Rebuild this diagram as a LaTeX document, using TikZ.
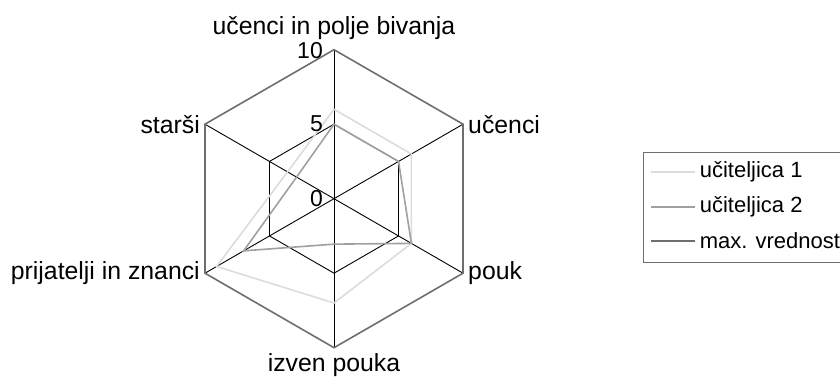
\documentclass[tikz,border=0pt]{standalone}
\usepackage{fontspec}
\setmainfont{Liberation Sans}
\usetikzlibrary{positioning}

\definecolor{teacherone}{HTML}{DCDCDC}
\definecolor{teachertwo}{HTML}{A0A0A0}
\definecolor{maxvalue}{HTML}{6E6E6E}

\tikzstyle{grid}=[
   draw=black,
   line width=0.9pt
]
\tikzstyle{series}=[
   line width=1.6pt,
   line join=miter
]
\tikzstyle{axislabel}=[
   font=\fontsize{24.8}{28}\selectfont,
   inner sep=0pt
]
\tikzstyle{ticklabel}=[
   font=\fontsize{23}{26}\selectfont,
   inner sep=0pt
]
\tikzstyle{legendtext}=[
   font=\fontsize{22}{26}\selectfont,
   text=black,
   inner sep=0pt,
   anchor=west
]

\begin{document}
\begin{tikzpicture}[x=1pt, y=1pt]
      \clip (0,0) rectangle (840,385);
      \useasboundingbox (0,0) rectangle (840,385);

      \begin{scope}[shift={(334,186.3)}, x=14.9pt, y=14.9pt]
         % axis ends at value 10
         \foreach \a [count=\i] in {90,30,-30,-90,-150,-210}
            \coordinate (o\i) at (\a:10);
         \coordinate (c) at (0,0);

         % spokes and the value 5 ring
         \foreach \i in {1,...,6}
            \draw[grid] (c) -- (o\i);
         \draw[grid] (90:5) -- (30:5) -- (-30:5) -- (-90:5)
            -- (-150:5) -- (-210:5) -- cycle;

         % teacher 1
         \draw[series, teacherone] (90:6) -- (30:6) -- (-30:6) -- (-90:7)
            -- (-150:9.1) -- (-210:3.6) -- cycle;
         % teacher 2
         \draw[series, teachertwo] (90:5) -- (30:5) -- (-30:6) -- (-90:3.05)
            -- (-150:7) -- (-210:2.9) -- cycle;
         % max. value
         \draw[series, maxvalue] (o1) -- (o2) -- (o3) -- (o4) -- (o5)
            -- (o6) -- cycle;

         \coordinate (t5) at (90:5);
      \end{scope}

      % axis labels
      \node (lab1) [axislabel, above=10pt of o1] {učenci in polje bivanja};
      \node (lab2) [axislabel, right=5pt of o2] {učenci};
      \node (lab3) [axislabel, right=5pt of o3] {pouk};
      \node (lab4) [axislabel, below=6pt of o4] {izven pouka};
      \node (lab5) [axislabel, left=5pt of o5] {prijatelji in znanci};
      \node (lab6) [axislabel, left=5pt of o6] {starši};

      % scale values
      \node (tick10) [ticklabel, left=11pt of o1, yshift=-1pt] {10};
      \node (tick5) [ticklabel, left=11pt of t5] {5};
      \node (tick0) [ticklabel, left=11pt of c] {0};

      % legend
      \node (legend) [draw=maxvalue, line width=0.9pt, minimum width=215pt,
         minimum height=110pt, anchor=north west] at (643,233) {};
      \coordinate (l1) at (651,213);
      \coordinate (l2) at (651,178);
      \coordinate (l3) at (651,144);
      \draw[series, teacherone] (l1) -- ++(44,0) node (leg1) [legendtext, xshift=4pt] {učiteljica 1};
      \draw[series, teachertwo] (l2) -- ++(44,0) node (leg2) [legendtext, xshift=4pt] {učiteljica 2};
      \draw[series, maxvalue] (l3) -- ++(44,0) node (leg3) [legendtext, xshift=4pt] {max. vrednost};
\end{tikzpicture}
\end{document}
